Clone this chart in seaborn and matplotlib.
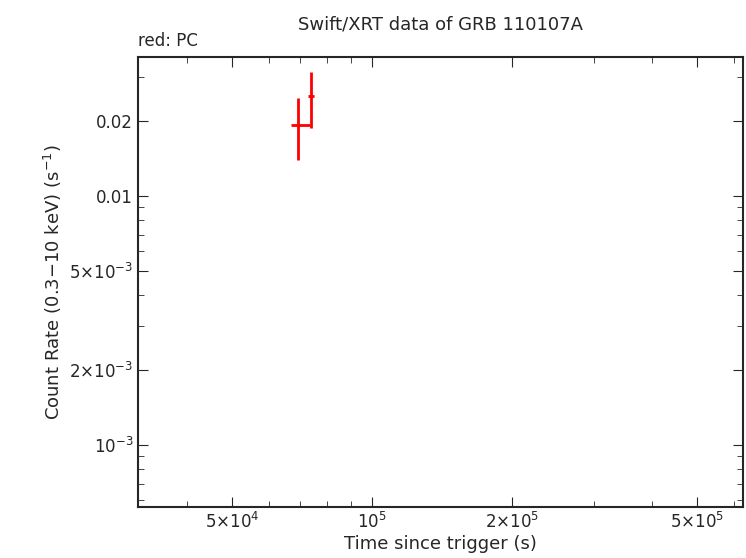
import numpy as np
import matplotlib
matplotlib.use("Agg")
import matplotlib.pyplot as plt
import seaborn as sns
from matplotlib.ticker import FixedLocator, FixedFormatter, NullFormatter

sns.set_style("ticks")
plt.rcParams['font.family'] = ['DejaVu Sans']

# PC mode data
t = [6.93e4, 7.40e4]
t_lo = [6.70e4, 7.29e4]
t_hi = [7.36e4, 7.51e4]
rate = [0.0193, 0.0252]
rate_lo = [0.0140, 0.0188]
rate_hi = [0.0248, 0.0315]

fig = plt.figure(figsize=(7.46, 5.58), dpi=100)
ax = fig.add_axes([138/746, 1-507/558, (743-138)/746, (507-57)/558])

xerr = [np.array(t) - np.array(t_lo), np.array(t_hi) - np.array(t)]
yerr = [np.array(rate) - np.array(rate_lo), np.array(rate_hi) - np.array(rate)]
ax.errorbar(t, rate, xerr=xerr, yerr=yerr, fmt='o', ms=2, color='red',
            ecolor='red', elinewidth=2, capsize=0)

ax.set_xscale('log')
ax.set_yscale('log')
ax.set_xlim(3.14e4, 6.28e5)
ax.set_ylim(5.64e-4, 0.0362)

ax.xaxis.set_major_locator(FixedLocator([5e4, 1e5, 2e5, 5e5]))
ax.xaxis.set_major_formatter(FixedFormatter(['5×10$^4$', '10$^5$', '2×10$^5$', '5×10$^5$']))
ax.xaxis.set_minor_formatter(NullFormatter())
ax.yaxis.set_major_locator(FixedLocator([1e-3, 2e-3, 5e-3, 0.01, 0.02]))
ax.yaxis.set_major_formatter(FixedFormatter(['10$^{-3}$', '2×10$^{-3}$', '5×10$^{-3}$', '0.01', '0.02']))
ax.yaxis.set_minor_formatter(NullFormatter())

ax.tick_params(which='both', direction='in', top=True, right=True, labelsize=12)
ax.tick_params(which='major', length=7)
ax.tick_params(which='minor', length=4)
for s in ax.spines.values():
    s.set_linewidth(1.5)

ax.set_xlabel('Time since trigger (s)', fontsize=13, labelpad=2)
ax.set_ylabel('Count Rate (0.3$-$10 keV) (s$^{-1}$)', fontsize=13)
ax.set_title('Swift/XRT data of GRB 110107A', fontsize=13, pad=20)
ax.text(0.0, 1.015, 'red: PC', transform=ax.transAxes, fontsize=12, ha='left', va='bottom')

fig.savefig('out.png', dpi=100)
